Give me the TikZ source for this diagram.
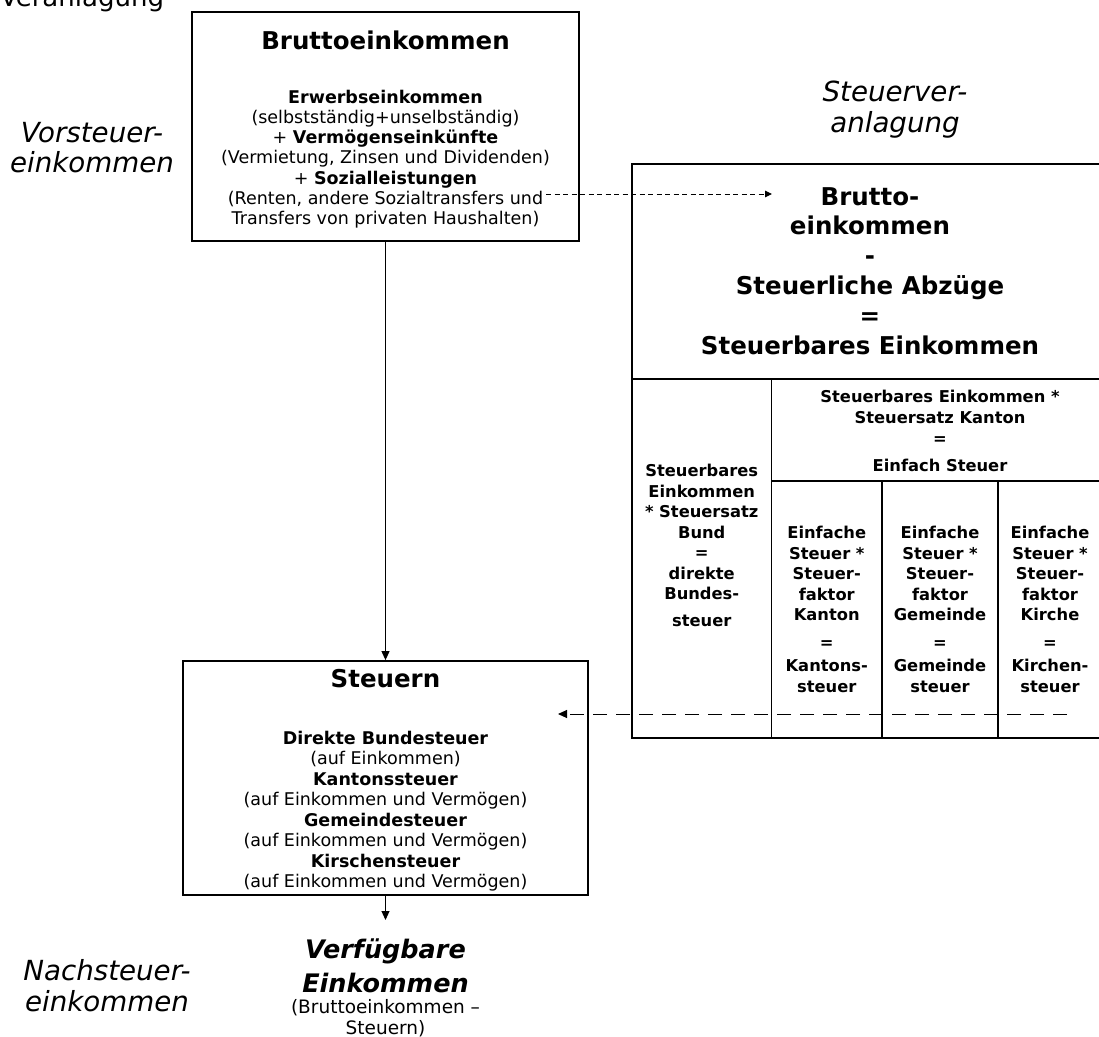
\documentclass[tikz,border=0pt]{standalone}
\usepackage{fontspec}
\setmainfont{DejaVu Sans}
\usetikzlibrary{arrows.meta}
\begin{document}
\begin{tikzpicture}[x=1pt,y=-1pt,
  box/.style={draw, line width=1.8pt, inner sep=0pt},
  conn/.style={line width=1pt, -{Triangle[length=9pt,width=8pt]}},
  dconn/.style={line width=1pt, -{Triangle[length=7pt,width=6.5pt]}},
  txt/.style={inner sep=0pt, align=center},
  bodyfont/.style={font=\fontsize{17.5}{20.2}\selectfont},
  titlefont/.style={font=\fontsize{24.5}{29.8}\selectfont\bfseries},
  cellfont/.style={font=\fontsize{16.3}{20.5}\selectfont\bfseries},
  sidelabel/.style={font=\fontsize{27.7}{29.2}\selectfont\itshape}]
\useasboundingbox (0,0) rectangle (1099,1036);

% boxes
\node[box, minimum width=387pt, minimum height=229pt] (brutto) at (385.5,126.5) {};
\node[box, minimum width=405pt, minimum height=234pt] (steuern) at (385.5,778) {};
\node[box, minimum width=476pt, minimum height=574pt] (veranl) at (870,451) {};

% internal grid of the right box
\draw[line width=1.8pt] (632,379) -- (1108,379);
\draw[line width=1.8pt] (771.5,379) -- (771.5,738);
\draw[line width=1.8pt] (771.5,481) -- (1108,481);
\draw[line width=1.8pt] (882,481) -- (882,738);
\draw[line width=1.8pt] (998,481) -- (998,738);

% clipped label at the top left
\node[txt, font=\fontsize{26}{30}\selectfont, anchor=base] (veranlag) at (82,6) {Veranlagung};

% side labels
\node[txt, sidelabel, anchor=north] (vorst) at (92,121.4) {\strut Vorsteuer-\\einkommen\strut};
\node[txt, sidelabel, anchor=north, font=\fontsize{27.7}{29.5}\selectfont\itshape] (stvl) at (895,81) {\strut Steuerver-\\anlagung\strut};
\node[txt, sidelabel, anchor=north, font=\fontsize{27.7}{28}\selectfont\itshape] (nachst) at (107,959.4) {\strut Nachsteuer-\\einkommen\strut};

% top box content
\node[txt, titlefont, anchor=base] (bt) at (385.5,49) {Bruttoeinkommen};
\node[txt, bodyfont, anchor=north] (bb) at (385.5,88.9) {\strut\textbf{Erwerbseinkommen}\\
(selbstständig+unselbständig)\\
+ \textbf{Vermögenseinkünfte}\\
(Vermietung, Zinsen und Dividenden)\\
+ \textbf{Sozialleistungen}\\
(Renten, andere Sozialtransfers und\\
Transfers von privaten Haushalten)\strut};

% Steuern box content
\node[txt, titlefont, anchor=base] (st) at (385.5,687) {Steuern};
\node[txt, font=\fontsize{17.5}{20.43}\selectfont, anchor=north] (sb) at (385.5,730) {\strut\textbf{Direkte Bundesteuer}\\
(auf Einkommen)\\
\textbf{Kantonssteuer}\\
(auf Einkommen und Vermögen)\\
\textbf{Gemeindesteuer}\\
(auf Einkommen und Vermögen)\\
\textbf{Kirschensteuer}\\
(auf Einkommen und Vermögen)\strut};

% result
\node[txt, font=\fontsize{25.5}{34}\selectfont\bfseries\itshape, anchor=north] (verf) at (385.5,934.2) {\strut Verfügbare\\Einkommen\strut};
\node[txt, font=\fontsize{18.5}{18.5}\selectfont, anchor=north] (verfsub) at (385.5,999.5) {\strut(Bruttoeinkommen –\\Steuern)\strut};

% right box content
\node[txt, titlefont, anchor=north] (vt) at (870,184.1) {\strut Brutto-\\einkommen\\-\\Steuerliche Abzüge\\=\\Steuerbares Einkommen\strut};
\node[txt, cellfont, anchor=north, font=\fontsize{16.3}{20.6}\selectfont\bfseries] (ckt) at (940,388.3) {\strut Steuerbares Einkommen *\\Steuersatz Kanton\\=\\[7pt]Einfach Steuer\strut};
\node[txt, cellfont, anchor=north, font=\fontsize{16.3}{20.43}\selectfont\bfseries] (cbund) at (701.75,462.4) {\strut Steuerbares\\Einkommen\\* Steuersatz\\Bund\\=\\direkte\\Bundes-\\[7pt]steuer\strut};
\node[txt, cellfont, anchor=north] (ckan) at (826.75,524) {\strut Einfache\\Steuer *\\Steuer-\\faktor\\Kanton\\[7.7pt]=\\[2.3pt]Kantons-\\steuer\strut};
\node[txt, cellfont, anchor=north] (cgem) at (940,524) {\strut Einfache\\Steuer *\\Steuer-\\faktor\\Gemeinde\\[7.7pt]=\\[2.3pt]Gemeinde\\steuer\strut};
\node[txt, cellfont, anchor=north] (ckir) at (1050,524) {\strut Einfache\\Steuer *\\Steuer-\\faktor\\Kirche\\[7.7pt]=\\[2.3pt]Kirchen-\\steuer\strut};

% connectors
\coordinate (outtip) at (385.5,920);
\coordinate (d1s) at (546,194);
\coordinate (d1e) at (772,194);
\coordinate (d2s) at (1067,714);
\coordinate (d2e) at (558,714);
\draw[conn] (brutto.south) -- (steuern.north);
\draw[conn] (steuern.south) -- (outtip);
\draw[dconn, dash pattern=on 5pt off 3.5pt] (d1s) -- (d1e);
\draw[conn, dash pattern=on 14pt off 9pt] (d2s) -- (d2e);
\end{tikzpicture}
\end{document}
